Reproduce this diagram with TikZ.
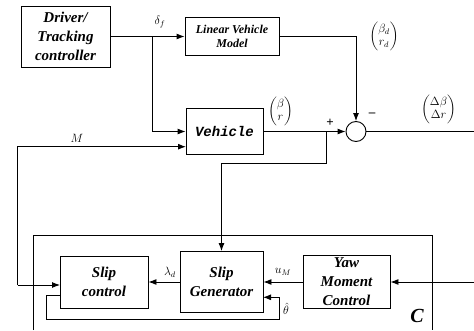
\documentclass[tikz,border=0pt]{standalone}
\usepackage{amsmath}
\usepackage{fontspec}
\setmainfont{Liberation Serif}
\newfontfamily\vfont{Liberation Mono}
\usetikzlibrary{arrows.meta}
\begin{document}
\begin{tikzpicture}[x=1pt,y=-1pt,
  blk/.style={draw,line width=0.9pt,inner sep=0pt,align=center,font=\fontsize{15}{19}\selectfont\bfseries\itshape},
  wire/.style={line width=0.9pt},
  arr/.style={wire,-{Latex[length=8pt,width=6pt]}},
  lab/.style={inner sep=0pt,font=\fontsize{11.5}{13}\selectfont}]
\useasboundingbox (0,0) rectangle (474,331);
% blocks
\node[blk,minimum width=89,minimum height=61] (drv) at (65.5,36.5) {Driver/\\Tracking\\controller};
\node[blk,minimum width=94,minimum height=38,font=\fontsize{12}{14}\selectfont\bfseries\itshape] (lin) at (232,36.5) {Linear Vehicle\\Model};
\node[blk,minimum width=77,minimum height=46,font=\fontsize{14}{15}\selectfont\vfont\bfseries\itshape] (veh) at (224.5,131.5) {Vehicle};
\node[draw,circle,line width=0.9pt,minimum size=20,inner sep=0pt] (sum) at (356,131.5) {};
\node[blk,minimum width=88,minimum height=52] (sc) at (104,282) {Slip\\control};
\node[blk,minimum width=83,minimum height=61] (sg) at (221.5,282) {Slip\\Generator};
\node[blk,minimum width=87,minimum height=53] (yaw) at (346.5,282) {Yaw\\Moment\\Control};
% outer box C
\draw[wire] (33,330) -- (33,235) -- (432,235) -- (432,330);
\node[inner sep=0pt,font=\fontsize{20}{20}\selectfont\bfseries\itshape] (clab) at (417,316) {C};
% connectors
\coordinate (br) at (152.7,36.5);
\draw[arr] (drv.east) -- (lin.west);
\draw[arr] (br) |- (veh.west);
\coordinate (lo) at (356,36.5);
\draw[arr] (lin.east) -- (lo) -- (sum.north);
\draw[arr] (veh.east) -- (sum.west);
\coordinate (outr) at (474,131.5);
\draw[wire] (sum.east) -- (outr);
% branch to slip generator
\coordinate (vb) at (326,131.5);
\coordinate (vb2) at (326,163);
\coordinate (vb3) at (221.5,163);
\draw[arr] (vb) -- (vb2) -- (vb3) -- (sg.north);
% M loop
\coordinate (m1) at (186,146.7);
\coordinate (m2) at (17.7,146.7);
\coordinate (m3) at (17.7,285);
\coordinate (m4) at (60,285);
\draw[arr] (m3) -- (m2) -- (m1);
\draw[arr] (m3) -- (m4);
% lambda and u_M
\draw[arr] (sg.west) -- (sc.east);
\draw[arr] (yaw.west) -- (sg.east);
\coordinate (inr) at (474,282);
\draw[arr] (inr) -- (yaw.east);
% theta feedback
\coordinate (t0) at (60,295);
\coordinate (t1) at (46.7,295);
\coordinate (t2) at (46.7,319.3);
\coordinate (t3) at (279.3,319.3);
\coordinate (t4) at (279.3,297.3);
\coordinate (t5) at (263,297.3);
\draw[arr] (t0) -- (t1) -- (t2) -- (t3) -- (t4) -- (t5);
% labels
\node[lab] (ldelta) at (160,22) {$\delta_f$};
\node[lab] (lM) at (77,138) {$M$};
\node[lab] (lbr) at (280.5,111.5) {$\begin{pmatrix}\beta\\ r\end{pmatrix}$};
\node[lab] (lbd) at (384,36.5) {$\begin{pmatrix}\beta_d\\ r_d\end{pmatrix}$};
\node[lab] (ldb) at (438.5,109) {$\begin{pmatrix}\Delta\beta\\ \Delta r\end{pmatrix}$};
\node[lab,font=\fontsize{13}{13}\selectfont\bfseries] (lplus) at (330,123) {+};
\node[lab,font=\fontsize{13}{13}\selectfont\bfseries] (lminus) at (372,115) {\textendash};
\node[lab] (llam) at (170,272) {$\lambda_d$};
\node[lab] (luM) at (283,272) {$u_M$};
\node[lab] (lth) at (286,309) {$\hat\theta$};
\end{tikzpicture}
\end{document}
